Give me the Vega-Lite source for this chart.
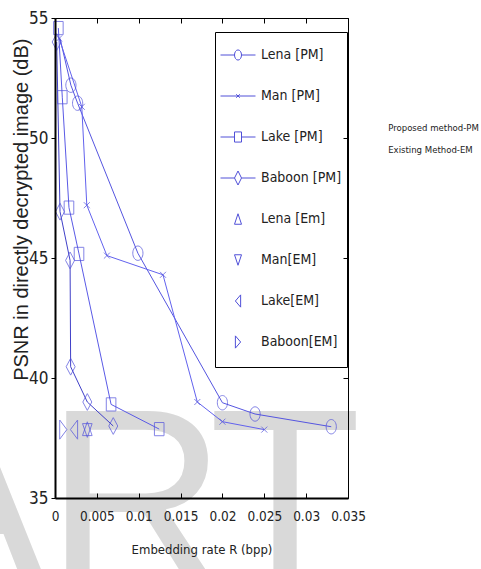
{
  "$schema": "https://vega.github.io/schema/vega-lite/v6.json",
  "autosize": {"type": "none"},
  "width": 293,
  "height": 480,
  "padding": {"left": 55, "top": 18, "right": 133, "bottom": 71},
  "background": "white",
  "config": {"view": {"stroke": null}},
  "datasets": {
    "pts": [
      {"s": "Lena [PM]", "x": 0.0006, "y": 54.15, "m": 0, "k": "pm"},
      {"s": "Lena [PM]", "x": 0.0019, "y": 52.2, "m": 1, "k": "pm"},
      {"s": "Lena [PM]", "x": 0.0027, "y": 51.45, "m": 1, "k": "pm"},
      {"s": "Lena [PM]", "x": 0.0099, "y": 45.2, "m": 1, "k": "pm"},
      {"s": "Lena [PM]", "x": 0.02, "y": 38.97, "m": 1, "k": "pm"},
      {"s": "Lena [PM]", "x": 0.0239, "y": 38.5, "m": 1, "k": "pm"},
      {"s": "Lena [PM]", "x": 0.033, "y": 37.97, "m": 1, "k": "pm"},
      {"s": "Man [PM]", "x": 0.0005, "y": 54.15, "m": 1, "k": "pm"},
      {"s": "Man [PM]", "x": 0.0032, "y": 51.3, "m": 1, "k": "pm"},
      {"s": "Man [PM]", "x": 0.0038, "y": 47.2, "m": 1, "k": "pm"},
      {"s": "Man [PM]", "x": 0.0062, "y": 45.1, "m": 1, "k": "pm"},
      {"s": "Man [PM]", "x": 0.0129, "y": 44.3, "m": 1, "k": "pm"},
      {"s": "Man [PM]", "x": 0.017, "y": 39.0, "m": 1, "k": "pm"},
      {"s": "Man [PM]", "x": 0.02, "y": 38.18, "m": 1, "k": "pm"},
      {"s": "Man [PM]", "x": 0.025, "y": 37.85, "m": 1, "k": "pm"},
      {"s": "Lake [PM]", "x": 0.0004, "y": 54.58, "m": 1, "k": "pm"},
      {"s": "Lake [PM]", "x": 0.00087, "y": 51.7, "m": 1, "k": "pm"},
      {"s": "Lake [PM]", "x": 0.00167, "y": 47.1, "m": 1, "k": "pm"},
      {"s": "Lake [PM]", "x": 0.00287, "y": 45.17, "m": 1, "k": "pm"},
      {"s": "Lake [PM]", "x": 0.0067, "y": 38.9, "m": 1, "k": "pm"},
      {"s": "Lake [PM]", "x": 0.01245, "y": 37.87, "m": 1, "k": "pm"},
      {"s": "Baboon [PM]", "x": 0.0002, "y": 54.0, "m": 1, "k": "pm"},
      {"s": "Baboon [PM]", "x": 0.0006, "y": 46.93, "m": 1, "k": "pm"},
      {"s": "Baboon [PM]", "x": 0.0018, "y": 44.9, "m": 1, "k": "pm"},
      {"s": "Baboon [PM]", "x": 0.00187, "y": 40.47, "m": 1, "k": "pm"},
      {"s": "Baboon [PM]", "x": 0.00386, "y": 39.0, "m": 1, "k": "pm"},
      {"s": "Baboon [PM]", "x": 0.00696, "y": 38.0, "m": 1, "k": "pm"},
      {"s": "Lena [Em]", "x": 0.00386, "y": 37.85, "m": 1, "k": "em"},
      {"s": "Man[EM]", "x": 0.00386, "y": 37.85, "m": 1, "k": "em"},
      {"s": "Lake[EM]", "x": 0.00227, "y": 37.85, "m": 1, "k": "em"},
      {"s": "Baboon[EM]", "x": 0.00099, "y": 37.85, "m": 1, "k": "em"}
    ],
    "wm": [
      {"x": -0.01087, "y": 31.42, "t": "A"},
      {"x": 0.009676, "y": 31.42, "t": "R"},
      {"x": 0.027474, "y": 31.42, "t": "T"}
    ],
    "note": [
      {"x": 0.0398, "y": 50.42, "t": "Proposed method-PM"},
      {"x": 0.0398, "y": 49.5, "t": "Existing Method-EM"}
    ]
  },
  "resolve": {"axis": {"x": "independent", "y": "independent"}, "scale": {"shape": "independent"}},
  "layer": [
    {
      "data": {"name": "wm"},
      "mark": {"type": "text", "font": "Liberation Sans", "fontSize": 250, "align": "center", "baseline": "alphabetic", "color": "#d9d9d9"},
      "encoding": {
        "x": {"field": "x", "type": "quantitative", "scale": {"domain": [0, 0.035], "nice": false, "zero": false}, "axis": null},
        "y": {"field": "y", "type": "quantitative", "scale": {"domain": [35, 55], "nice": false, "zero": false}, "axis": null},
        "text": {"field": "t"}
      }
    },
    {
      "data": {"name": "pts"},
      "transform": [{"filter": "datum.k == 'pm'"}],
      "mark": {"type": "line", "strokeWidth": 1},
      "encoding": {
        "x": {"field": "x", "type": "quantitative",
          "axis": {"orient": "bottom", "values": [0, 0.005, 0.01, 0.015, 0.02, 0.025, 0.03, 0.035], "format": ".3~f",
            "title": "Embedding rate R (bpp)", "titleFont": "DejaVu Sans Condensed", "titleFontSize": 13, "titleFontWeight": "normal", "titleColor": "#222", "titlePadding": 21,
            "labelFont": "DejaVu Sans Condensed", "labelFontSize": 13.5, "labelColor": "#222", "labelPadding": 16,
            "tickSize": -5, "tickColor": "black", "domainColor": "black", "domainWidth": 2, "grid": false, "zindex": 1, "labelFlush": false}},
        "y": {"field": "y", "type": "quantitative",
          "axis": {"orient": "left", "values": [35, 40, 45, 50, 55],
            "title": "PSNR in directly decrypted image (dB)", "titleFont": "Liberation Sans", "titleFontSize": 20, "titleFontWeight": "normal", "titleColor": "#222", "titleAnchor": "end", "titleY": 20, "titlePadding": -3,
            "labelFont": "DejaVu Sans Condensed", "labelFontSize": 17, "labelColor": "#222", "labelPadding": 3,
            "tickSize": 4, "tickColor": "black", "domainColor": "black", "domainWidth": 2, "grid": false, "zindex": 1, "labelFlush": false}},
        "stroke": {"field": "s", "type": "nominal", "legend": null,
          "scale": {"domain": ["Lena [PM]", "Man [PM]", "Lake [PM]", "Baboon [PM]"],
                    "range": ["#5555e0", "#6262ee", "#5a5ae6", "#4040c8"]}},
        "detail": {"field": "s"}
      }
    },
    {
      "data": {"name": "pts"},
      "transform": [{"filter": "datum.m == 1"}],
      "mark": {"type": "point", "filled": false, "strokeWidth": 1, "size": 144, "color": "#5050dc"},
      "encoding": {
        "x": {"field": "x", "type": "quantitative",
          "axis": {"orient": "top", "values": [0, 0.005, 0.01, 0.015, 0.02, 0.025, 0.03, 0.035], "labels": false, "title": null, "tickSize": -5, "tickColor": "black", "domainColor": "black", "domainWidth": 1, "grid": false, "zindex": 1}},
        "y": {"field": "y", "type": "quantitative",
          "axis": {"orient": "right", "values": [35, 40, 45, 50, 55], "labels": false, "title": null, "tickSize": -5, "tickColor": "black", "domainColor": "black", "domainWidth": 1, "grid": false, "zindex": 1}},
        "shape": {"field": "s", "type": "nominal", "legend": null,
          "scale": {"domain": ["Lena [PM]", "Man [PM]", "Lake [PM]", "Baboon [PM]", "Lena [Em]", "Man[EM]", "Lake[EM]", "Baboon[EM]"],
                    "range": [
                      "M-0.85,0A0.85,1.2 0 1,1 0.85,0A0.85,1.2 0 1,1 -0.85,0Z",
                      "M-0.5,-0.5L0.5,0.5M-0.5,0.5L0.5,-0.5",
                      "M-0.8,-1.1H0.8V1.1H-0.8Z",
                      "M-0.75,0L0,-1.4L0.75,0L0,1.4Z",
                      "M0,-1.3L0.8,1H-0.8Z",
                      "M0,1.3L0.8,-1H-0.8Z",
                      "M-0.6,0L0.6,-1.6V1.6Z",
                      "M0.6,0L-0.6,-1.6V1.6Z"]}
        }
      }
    },
    {
      "data": {"name": "pts"},
      "transform": [{"filter": "datum.m == 1"}],
      "mark": {"type": "point", "filled": false, "strokeWidth": 1, "opacity": 0, "color": "#5050d8"},
      "encoding": {
        "x": {"field": "x", "type": "quantitative", "axis": null},
        "y": {"field": "y", "type": "quantitative", "axis": null},
        "shape": {"field": "s", "type": "nominal",
          "scale": {"domain": ["Lena [PM]", "Man [PM]", "Lake [PM]", "Baboon [PM]", "Lena [Em]", "Man[EM]", "Lake[EM]", "Baboon[EM]"],
                    "range": [
                      "M0,-1L0,-1M0,1L0,1M-1,0H-0.2M0.2,0H1M-0.2,0A0.2,0.29 0 1,1 0.2,0A0.2,0.29 0 1,1 -0.2,0Z",
                      "M0,-1L0,-1M0,1L0,1M-1,0H1M-0.1,-0.1L0.1,0.1M-0.1,0.1L0.1,-0.1",
                      "M0,-1L0,-1M0,1L0,1M-1,0H-0.2M0.2,0H1M-0.2,-0.29H0.2V0.29H-0.2Z",
                      "M0,-1L0,-1M0,1L0,1M-1,0H-0.2M0.2,0H1M-0.2,0L0,-0.4L0.2,0L0,0.4Z",
                      "M0,-1L0,-1M0,1L0,1M0,-0.3L0.2,0.3H-0.2Z",
                      "M0,-1L0,-1M0,1L0,1M0,0.3L0.2,-0.3H-0.2Z",
                      "M0,-1L0,-1M0,1L0,1M-0.15,0L0.15,-0.35V0.35Z",
                      "M0,-1L0,-1M0,1L0,1M0.15,0L-0.15,-0.35V0.35Z"]},
          "legend": {
            "orient": "none", "legendX": 160, "legendY": 14, "title": null,
            "padding": 5, "strokeColor": "black", "fillColor": "white",
            "symbolSize": 1225, "rowPadding": 1, "labelOffset": 5,
            "symbolOpacity": 1, "symbolStrokeColor": "#5050d8", "symbolStrokeWidth": 1, "symbolFillColor": "transparent",
            "labelFont": "DejaVu Sans Condensed", "labelFontSize": 14, "labelColor": "#222", "labelLimit": 300,
            "labelExpr": "datum.label + '        '"
          }
        }
      }
    },
    {
      "data": {"name": "note"},
      "mark": {"type": "text", "font": "DejaVu Sans Condensed", "fontSize": 9.5, "align": "left", "baseline": "middle", "color": "#222"},
      "encoding": {
        "x": {"field": "x", "type": "quantitative", "axis": null},
        "y": {"field": "y", "type": "quantitative", "axis": null},
        "text": {"field": "t"}
      }
    }
  ]
}
